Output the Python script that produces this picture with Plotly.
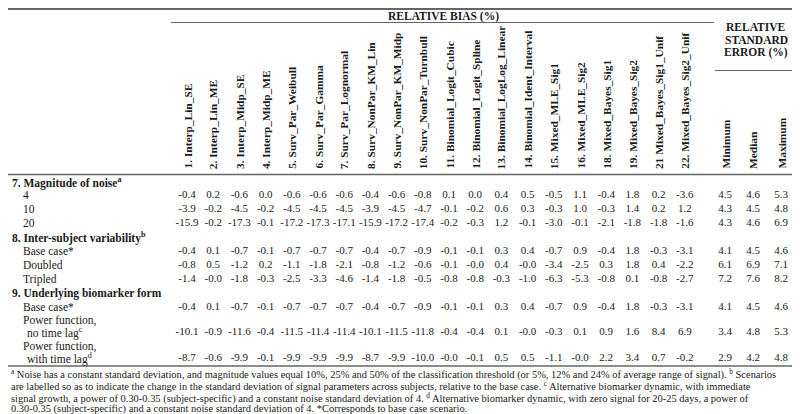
import plotly.graph_objects as go

# ---------------- data ----------------
bias_columns = ["1. Interp_Lin_SE", "2. Interp_Lin_ME", "3. Interp_Midp_SE", "4. Interp_Midp_ME",
                "5. Surv_Par_Weibull", "6. Surv_Par_Gamma", "7. Surv_Par_Lognormal",
                "8. Surv_NonPar_KM_Lin", "9. Surv_NonPar_KM_Midp", "10. Surv_NonPar_Turnbull",
                "11. Binomial_Logit_Cubic", "12. Binomial_Logit_Spline", "13. Binomial_LogLog_Linear",
                "14. Binomial_Ident_Interval", "15. Mixed_MLE_Sig1", "16. Mixed_MLE_Sig2",
                "18. Mixed_Bayes_Sig1", "19. Mixed_Bayes_Sig2", "21 Mixed_Bayes_Sig1_Unif",
                "22. Mixed_Bayes_Sig2_Unif"]
rse_columns = ["Minimum", "Median", "Maximum"]

noise_4 = [-0.4, 0.2, -0.6, 0.0, -0.6, -0.6, -0.6, -0.4, -0.6, -0.8, 0.1, 0.0, 0.4, 0.5, -0.5, 1.1, -0.4, 1.8, 0.2, -3.6, 4.5, 4.6, 5.3]
noise_10 = [-3.9, -0.2, -4.5, -0.2, -4.5, -4.5, -4.5, -3.9, -4.5, -4.7, -0.1, -0.2, 0.6, 0.3, -0.3, 1.0, -0.3, 1.4, 0.2, 1.2, 4.3, 4.5, 4.8]
noise_20 = [-15.9, -0.2, -17.3, -0.1, -17.2, -17.3, -17.1, -15.9, -17.2, -17.4, -0.2, -0.3, 1.2, -0.1, -3.0, -0.1, -2.1, -1.8, -1.8, -1.6, 4.3, 4.6, 6.9]
var_base = [-0.4, 0.1, -0.7, -0.1, -0.7, -0.7, -0.7, -0.4, -0.7, -0.9, -0.1, -0.1, 0.3, 0.4, -0.7, 0.9, -0.4, 1.8, -0.3, -3.1, 4.1, 4.5, 4.6]
var_doubled = [-0.8, 0.5, -1.2, 0.2, -1.1, -1.8, -2.1, -0.8, -1.2, -0.6, -0.1, -0.0, 0.4, -0.0, -3.4, -2.5, 0.3, 1.8, 0.4, -2.2, 6.1, 6.9, 7.1]
var_tripled = [-1.4, -0.0, -1.8, -0.3, -2.5, -3.3, -4.6, -1.4, -1.8, -0.5, -0.8, -0.8, -0.3, -1.0, -6.3, -5.3, -0.8, 0.1, -0.8, -2.7, 7.2, 7.6, 8.2]
form_base = [-0.4, 0.1, -0.7, -0.1, -0.7, -0.7, -0.7, -0.4, -0.7, -0.9, -0.1, -0.1, 0.3, 0.4, -0.7, 0.9, -0.4, 1.8, -0.3, -3.1, 4.1, 4.5, 4.6]
form_power_nolag = [-10.1, -0.9, -11.6, -0.4, -11.5, -11.4, -11.4, -10.1, -11.5, -11.8, -0.4, -0.4, 0.1, -0.0, -0.3, 0.1, 0.9, 1.6, 8.4, 6.9, 3.4, 4.8, 5.3]
form_power_lag = [-8.7, -0.6, -9.9, -0.1, -9.9, -9.9, -9.9, -8.7, -9.9, -10.0, -0.0, -0.1, 0.5, 0.5, -1.1, -0.0, 2.2, 3.4, 0.7, -0.2, 2.9, 4.2, 4.8]

section_titles = ["7. Magnitude of noise<sup>a</sup>", "8. Inter-subject variability<sup>b</sup>",
                  "9. Underlying biomarker form"]
row_labels = ["4", "10", "20", "Base case*", "Doubled", "Tripled", "Base case*",
              "Power function,", "Power function,"]
row_sublabels = ["", "", "", "", "", "", "", "no time lag<sup>c</sup>", "with time lag<sup>d</sup>"]
row_values = [noise_4, noise_10, noise_20, var_base, var_doubled, var_tripled,
              form_base, form_power_nolag, form_power_lag]

footnotes = [
    "<sup>a</sup> Noise has a constant standard deviation, and magnitude values equal 10%, 25% and 50% of the classification threshold (or 5%, 12% and 24% of average range of signal). <sup>b</sup> Scenarios",
    "are labelled so as to indicate the change in the standard deviation of signal parameters across subjects, relative to the base case. <sup>c</sup> Alternative biomarker dynamic, with immediate",
    "signal growth, a power of 0.30-0.35 (subject-specific) and a constant noise standard deviation of 4. <sup>d</sup> Alternative biomarker dynamic, with zero signal for 20-25 days, a power of",
    "0.30-0.35 (subject-specific) and a constant noise standard deviation of 4. *Corresponds to base case scenario.",
]

# ---------------- layout constants ----------------
W, H = 800, 414
FONT = "Liberation Serif"
TXT = "#1a1a1a"
LINE = "#666666"

bias_x0, bias_step = 179, 26.2
rse_x0, rse_step = 717, 28
col_x = [bias_x0 + i * bias_step for i in range(len(bias_columns))] + \
        [rse_x0 + i * rse_step for i in range(len(rse_columns))]
all_cols = bias_columns + rse_columns

section_y = [174, 229, 285]
row_y = [187, 201, 215, 243, 257, 271, 299, 324, 350]
label_y = [187, 201, 215, 243, 257, 271, 299, 312.5, 338]

fig = go.Figure()

xs, ys, ts = [], [], []
for vals, y in zip(row_values, row_y):
    for v, x in zip(vals, col_x):
        xs.append(x)
        ys.append(y)
        ts.append(f"{v:.1f}")
fig.add_trace(go.Scatter(x=xs, y=ys, text=ts, mode="text", textposition="middle center",
                         textfont=dict(family=FONT, size=11, color=TXT),
                         hoverinfo="skip", showlegend=False))

ann = []
for name, x in zip(all_cols, col_x):
    ann.append(dict(x=x, y=163, text=f"<b>{name}</b>", textangle=-90, xanchor="center",
                    yanchor="bottom", showarrow=False,
                    font=dict(family=FONT, size=11.4, color=TXT)))
ann.append(dict(x=435, y=8, text="<b>RELATIVE BIAS (%)</b>", showarrow=False,
                xanchor="center", yanchor="middle", font=dict(family=FONT, size=11.5, color=TXT)))
for t, y in zip(["RELATIVE", "STANDARD", "ERROR (%)"], [19, 31.5, 44]):
    ann.append(dict(x=748, y=y, text=f"<b>{t}</b>", showarrow=False,
                    xanchor="center", yanchor="middle",
                    font=dict(family=FONT, size=11.5, color=TXT)))
for t, y in zip(section_titles, section_y):
    ann.append(dict(x=2, y=y, text=f"<b>{t}</b>", showarrow=False, xanchor="left",
                    yanchor="middle", font=dict(family=FONT, size=11.5, color=TXT)))
for t, s, y in zip(row_labels, row_sublabels, label_y):
    ann.append(dict(x=13, y=y, text=t, showarrow=False, xanchor="left", yanchor="middle",
                    font=dict(family=FONT, size=11.5, color=TXT)))
    if s:
        ann.append(dict(x=17, y=y + 12, text=s, showarrow=False, xanchor="left",
                        yanchor="middle", font=dict(family=FONT, size=11.5, color=TXT)))
for i, t in enumerate(footnotes):
    ann.append(dict(x=1, y=366 + 11.8 * i, text=t, showarrow=False, xanchor="left",
                    yanchor="middle", font=dict(family=FONT, size=10.45, color=TXT)))

shapes = [
    dict(type="line", x0=0, x1=W, y0=1, y1=1, line=dict(color=LINE, width=2)),
    dict(type="line", x0=163, x1=706, y0=14.5, y1=14.5, line=dict(color=LINE, width=1.2)),
    dict(type="line", x0=707, x1=789, y0=62.5, y1=62.5, line=dict(color=LINE, width=1.2)),
    dict(type="line", x0=0, x1=W, y0=166.5, y1=166.5, line=dict(color=LINE, width=1.5)),
    dict(type="line", x0=0, x1=W, y0=358, y1=358, line=dict(color=LINE, width=1.5)),
]

fig.update_layout(
    width=W, height=H, margin=dict(l=0, r=0, t=0, b=0),
    paper_bgcolor="white", plot_bgcolor="white",
    xaxis=dict(range=[0, W], visible=False, fixedrange=True),
    yaxis=dict(range=[H, 0], visible=False, fixedrange=True),
    annotations=ann, shapes=shapes, showlegend=False,
)

fig.write_html("out.html", config={"displayModeBar": False})
